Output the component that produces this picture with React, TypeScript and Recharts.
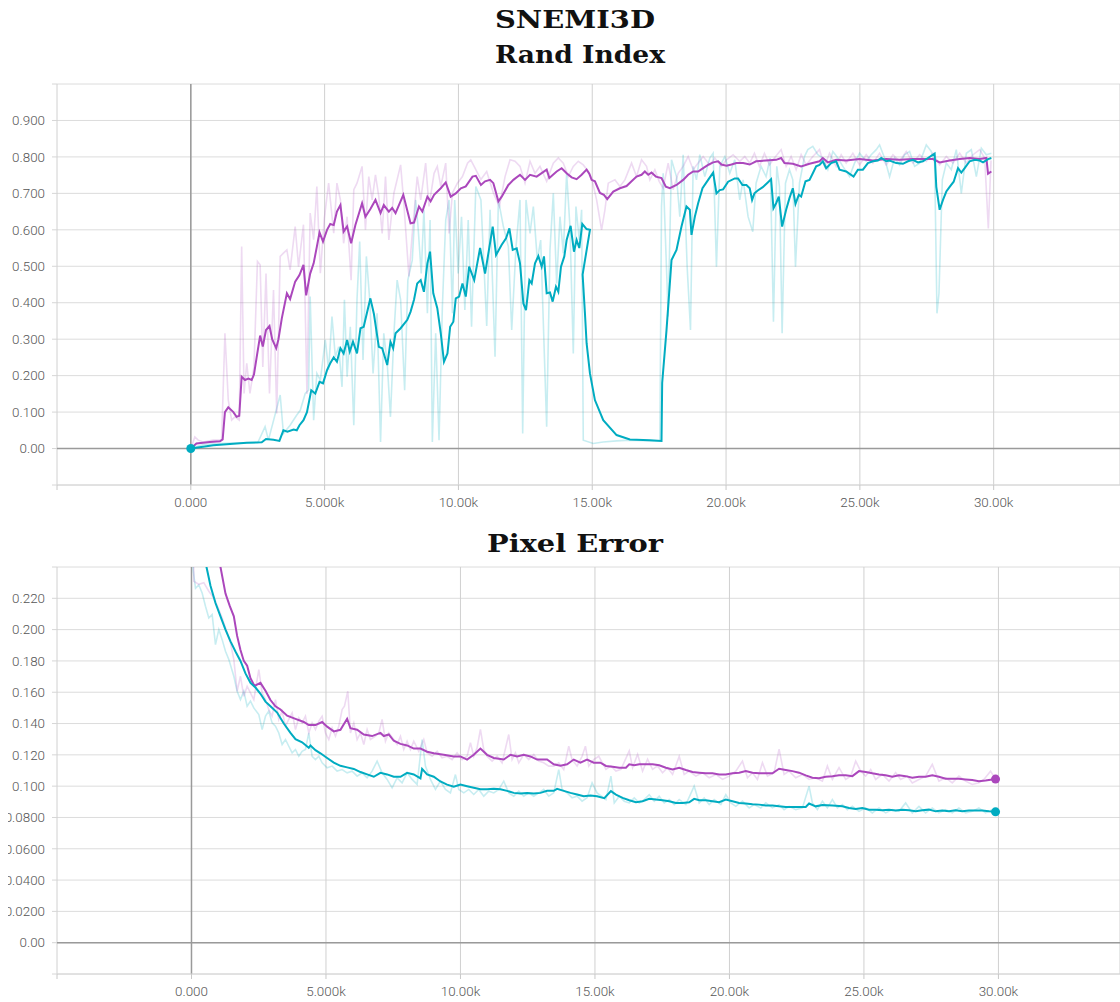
import React from 'react';
import {
  LineChart,
  Line,
  XAxis,
  YAxis,
  CartesianGrid,
  ReferenceLine,
  ReferenceDot,
} from 'recharts';

// [step, value] pairs
const randCyanRaw = [
  [0, 0], [500, 0.012], [1500, 0.015], [2500, 0.016], [2775, 0.06], [2900, 0.023], [3340, 0.147], [3460, 0.041],
  [3710, 0.064], [3960, 0.092], [4090, 0.105], [4275, 0.151], [4400, 0.16], [4460, 0.417], [4590, 0.078], [4710, 0.206],
  [4840, 0.188], [5025, 0.298], [5150, 0.215], [5275, 0.362], [5400, 0.252], [5525, 0.279], [5650, 0.169], [5740, 0.408],
  [5840, 0.197], [5960, 0.334], [6090, 0.064], [6210, 0.408], [6310, 0.568], [6435, 0.243], [6560, 0.527], [6685, 0.408],
  [6810, 0.206], [6960, 0.371], [7090, 0.018], [7210, 0.316], [7340, 0.233], [7460, 0.087], [7590, 0.316], [7710, 0.462],
  [7840, 0.408], [7990, 0.16], [8110, 0.462], [8275, 0.517], [8400, 0.682], [8490, 0.609], [8610, 0.48], [8710, 0.655],
  [8840, 0.371], [8940, 0.627], [9025, 0.018], [9150, 0.316], [9275, 0.023], [9400, 0.389], [9525, 0.627], [9650, 0.682],
  [9775, 0.371], [9860, 0.682], [9990, 0.48], [10115, 0.636], [10240, 0.38], [10365, 0.627], [10490, 0.334], [10650, 0.719],
  [10840, 0.682], [11057, 0.336], [11182, 0.655], [11368, 0.252], [11493, 0.682], [11679, 0.609], [11866, 0.554], [11990, 0.325],
  [12152, 0.554], [12301, 0.682], [12401, 0.041], [12525, 0.682], [12675, 0.59], [12799, 0.664], [12948, 0.517], [13073, 0.572],
  [13297, 0.06], [13421, 0.545], [13545, 0.7], [13670, 0.453], [13794, 0.636], [13919, 0.536], [14043, 0.755], [14167, 0.609],
  [14292, 0.261], [14391, 0.664], [14516, 0.572], [14603, 0.655], [14665, 0.023], [15038, 0.014], [15411, 0.018], [15909, 0.021],
  [16407, 0.023], [17153, 0.021], [17526, 0.02], [17588, 0.664], [17650, 0.755], [17837, 0.362], [17962, 0.792], [18148, 0.746],
  [18272, 0.636], [18397, 0.806], [18546, 0.499], [18671, 0.325], [18770, 0.774], [18894, 0.737], [19019, 0.806], [19206, 0.746],
  [19392, 0.797], [19517, 0.81], [19641, 0.499], [19766, 0.774], [19953, 0.801], [20139, 0.755], [20326, 0.792], [20512, 0.682],
  [20637, 0.737], [20823, 0.636], [20998, 0.595], [21122, 0.728], [21309, 0.774], [21496, 0.746], [21646, 0.797], [21771, 0.348],
  [21895, 0.774], [21995, 0.719], [22095, 0.316], [22220, 0.728], [22369, 0.765], [22494, 0.737], [22594, 0.499], [22743, 0.728],
  [22930, 0.801], [23055, 0.82], [23242, 0.829], [23429, 0.806], [23616, 0.797], [23803, 0.765], [23990, 0.815], [24177, 0.797],
  [24365, 0.774], [24614, 0.746], [24801, 0.783], [24988, 0.81], [25237, 0.788], [25424, 0.806], [25612, 0.82], [25736, 0.833],
  [25923, 0.797], [26110, 0.746], [26297, 0.797], [26484, 0.778], [26671, 0.806], [26858, 0.815], [27045, 0.774], [27233, 0.783],
  [27482, 0.833], [27669, 0.815], [27794, 0.783], [27881, 0.371], [27956, 0.426], [28081, 0.737], [28230, 0.783], [28417, 0.765],
  [28604, 0.82], [28791, 0.7], [28978, 0.81], [29165, 0.82], [29352, 0.746], [29539, 0.824], [29726, 0.806], [29914, 0.81],
];

const randCyanSmooth = [
  [0, 0], [840, 0.009], [2090, 0.016], [2650, 0.017], [2810, 0.026], [3090, 0.024], [3310, 0.021], [3460, 0.05],
  [3610, 0.046], [3840, 0.052], [3960, 0.05], [4060, 0.064], [4210, 0.078], [4340, 0.1], [4500, 0.16], [4650, 0.151],
  [4810, 0.183], [4940, 0.179], [5090, 0.215], [5210, 0.234], [5340, 0.25], [5460, 0.238], [5590, 0.275], [5710, 0.261],
  [5840, 0.298], [5940, 0.266], [6060, 0.293], [6210, 0.261], [6340, 0.33], [6460, 0.334], [6710, 0.412], [6840, 0.37],
  [7025, 0.279], [7150, 0.275], [7340, 0.229], [7460, 0.293], [7560, 0.275], [7650, 0.316], [7840, 0.33], [8090, 0.353],
  [8210, 0.375], [8340, 0.408], [8460, 0.453], [8590, 0.462], [8710, 0.43], [8840, 0.508], [8940, 0.54], [9060, 0.426],
  [9210, 0.385], [9340, 0.316], [9460, 0.238], [9590, 0.261], [9690, 0.334], [9810, 0.348], [9900, 0.412], [10025, 0.417],
  [10150, 0.453], [10275, 0.417], [10400, 0.499], [10590, 0.462], [10809, 0.55], [10995, 0.48], [11120, 0.536], [11281, 0.609],
  [11406, 0.531], [11617, 0.559], [11779, 0.577], [11903, 0.604], [12028, 0.545], [12177, 0.549], [12301, 0.508], [12426, 0.398],
  [12525, 0.38], [12650, 0.462], [12737, 0.453], [12861, 0.508], [12986, 0.528], [13110, 0.499], [13197, 0.527], [13297, 0.426],
  [13421, 0.428], [13521, 0.403], [13645, 0.444], [13732, 0.43], [13832, 0.499], [13956, 0.527], [14043, 0.572], [14192, 0.611],
  [14317, 0.54], [14416, 0.572], [14516, 0.55], [14628, 0.616], [14789, 0.602], [14914, 0.6],
  // run restarted from an earlier checkpoint
  [14640, 0.477], [14727, 0.371], [14789, 0.289], [14914, 0.206], [15100, 0.133], [15411, 0.078], [15909, 0.037], [16407, 0.025],
  [17153, 0.023], [17588, 0.021], [17613, 0.18], [17775, 0.325], [17962, 0.517], [18148, 0.545], [18335, 0.609], [18521, 0.664],
  [18646, 0.655], [18708, 0.586], [18833, 0.636], [18957, 0.673], [19119, 0.714], [19330, 0.737], [19517, 0.757], [19641, 0.7],
  [19766, 0.709], [19890, 0.711], [20077, 0.732], [20326, 0.741], [20450, 0.741], [20612, 0.723], [20761, 0.723], [20885, 0.714],
  [20973, 0.682], [21060, 0.7], [21185, 0.708], [21372, 0.717], [21559, 0.73], [21683, 0.739], [21771, 0.659], [21871, 0.673],
  [21970, 0.691], [22095, 0.609], [22245, 0.655], [22369, 0.687], [22494, 0.714], [22594, 0.671], [22718, 0.696], [22806, 0.691],
  [22968, 0.733], [23118, 0.737], [23242, 0.755], [23367, 0.774], [23492, 0.778], [23616, 0.788], [23741, 0.769], [23928, 0.783],
  [24115, 0.788], [24240, 0.765], [24489, 0.76], [24764, 0.746], [24926, 0.765], [25113, 0.765], [25300, 0.783], [25487, 0.788],
  [25674, 0.79], [25799, 0.797], [25986, 0.788], [26110, 0.79], [26360, 0.783], [26609, 0.781], [26796, 0.788], [26983, 0.792],
  [27170, 0.785], [27357, 0.788], [27544, 0.797], [27794, 0.809], [27856, 0.718], [27981, 0.655], [28106, 0.682], [28230, 0.705],
  [28355, 0.718], [28505, 0.732], [28667, 0.769], [28791, 0.757], [28916, 0.769], [29103, 0.788], [29290, 0.792], [29477, 0.79],
  [29602, 0.785], [29789, 0.794], [29914, 0.797],
];

const randPurpleRaw = [
  [0, 0], [150, 0.032], [275, 0.023], [460, 0.018], [840, 0.023], [1150, 0.023], [1275, 0.316], [1400, 0.133],
  [1525, 0.078], [1650, 0.087], [1810, 0.078], [1900, 0.554], [1990, 0.151], [2090, 0.234], [2210, 0.151], [2360, 0.224],
  [2490, 0.513], [2590, 0.504], [2690, 0.224], [2810, 0.48], [2940, 0.151], [3090, 0.435], [3210, 0.096], [3340, 0.527],
  [3460, 0.536], [3590, 0.545], [3710, 0.49], [3900, 0.609], [4025, 0.499], [4210, 0.614], [4340, 0.15], [4460, 0.646],
  [4590, 0.573], [4710, 0.719], [4840, 0.481], [4990, 0.632], [5150, 0.728], [5340, 0.591], [5460, 0.728], [5590, 0.682],
  [5710, 0.563], [5840, 0.636], [5990, 0.462], [6090, 0.71], [6210, 0.728], [6400, 0.774], [6525, 0.6], [6650, 0.746],
  [6775, 0.682], [6900, 0.751], [7025, 0.691], [7150, 0.59], [7275, 0.746], [7400, 0.572], [7590, 0.701], [7840, 0.778],
  [7960, 0.673], [8150, 0.472], [8275, 0.59], [8460, 0.746], [8590, 0.682], [8775, 0.783], [8900, 0.664], [9090, 0.755],
  [9210, 0.774], [9340, 0.719], [9525, 0.783], [9650, 0.59], [9775, 0.701], [9960, 0.728], [10150, 0.746], [10340, 0.783],
  [10460, 0.792], [10650, 0.765], [10840, 0.738], [11057, 0.76], [11306, 0.701], [11530, 0.664], [11742, 0.746], [11928, 0.792],
  [12115, 0.788], [12301, 0.774], [12488, 0.728], [12675, 0.788], [12861, 0.755], [13048, 0.774], [13297, 0.733], [13545, 0.783],
  [13732, 0.797], [13919, 0.783], [14105, 0.746], [14292, 0.774], [14478, 0.788], [14665, 0.778], [14852, 0.76], [14976, 0.742],
  [15163, 0.682], [15349, 0.6], [15474, 0.655], [15598, 0.728], [15847, 0.737], [16033, 0.719], [16220, 0.737], [16469, 0.783],
  [16655, 0.746], [16842, 0.792], [17029, 0.774], [17153, 0.737], [17340, 0.765], [17501, 0.733], [17650, 0.714], [17837, 0.783],
  [18023, 0.71], [18210, 0.755], [18397, 0.774], [18584, 0.801], [18770, 0.765], [18957, 0.783], [19144, 0.801], [19392, 0.778],
  [19579, 0.797], [19828, 0.774], [20015, 0.792], [20263, 0.806], [20512, 0.788], [20699, 0.801], [20885, 0.783], [21060, 0.81],
  [21247, 0.774], [21434, 0.81], [21621, 0.778], [21808, 0.797], [22058, 0.82], [22245, 0.774], [22432, 0.801], [22619, 0.765],
  [22806, 0.806], [22993, 0.778], [23242, 0.801], [23492, 0.82], [23679, 0.774], [23866, 0.81], [24115, 0.774], [24302, 0.806],
  [24489, 0.783], [24739, 0.81], [24988, 0.778], [25237, 0.806], [25487, 0.783], [25736, 0.81], [25986, 0.778], [26235, 0.806],
  [26484, 0.788], [26734, 0.815], [26983, 0.783], [27233, 0.806], [27482, 0.788], [27731, 0.81], [27981, 0.778], [28230, 0.801],
  [28480, 0.783], [28729, 0.81], [28978, 0.783], [29228, 0.806], [29477, 0.82], [29664, 0.797], [29800, 0.604], [29900, 0.79],
];

const randPurpleSmooth = [
  [0, 0], [210, 0.014], [710, 0.018], [1090, 0.02], [1190, 0.025], [1275, 0.1], [1400, 0.113], [1590, 0.1],
  [1710, 0.087], [1810, 0.09], [1900, 0.197], [2025, 0.188], [2150, 0.192], [2275, 0.188], [2360, 0.203], [2460, 0.25],
  [2590, 0.31], [2690, 0.28], [2810, 0.325], [2940, 0.336], [3040, 0.3], [3190, 0.275], [3275, 0.3], [3400, 0.357],
  [3590, 0.426], [3710, 0.41], [3900, 0.458], [4060, 0.476], [4210, 0.504], [4310, 0.42], [4460, 0.48], [4590, 0.508],
  [4710, 0.554], [4810, 0.593], [4940, 0.568], [5090, 0.6], [5210, 0.616], [5340, 0.613], [5460, 0.65], [5590, 0.668],
  [5710, 0.595], [5840, 0.609], [5990, 0.563], [6150, 0.613], [6400, 0.673], [6525, 0.636], [6710, 0.657], [6900, 0.682],
  [7090, 0.646], [7210, 0.668], [7400, 0.65], [7525, 0.66], [7650, 0.646], [7940, 0.696], [8210, 0.618], [8340, 0.62],
  [8525, 0.664], [8650, 0.65], [8840, 0.691], [8960, 0.678], [9090, 0.696], [9340, 0.714], [9525, 0.73], [9710, 0.691],
  [9900, 0.7], [10090, 0.714], [10275, 0.719], [10525, 0.746], [10650, 0.748], [10840, 0.723], [10995, 0.733], [11182, 0.737],
  [11306, 0.728], [11493, 0.678], [11617, 0.691], [11866, 0.723], [12053, 0.737], [12301, 0.751], [12488, 0.737], [12675, 0.751],
  [12923, 0.746], [13297, 0.765], [13396, 0.742], [13670, 0.76], [13856, 0.769], [14043, 0.755], [14230, 0.744], [14416, 0.739],
  [14603, 0.751], [14789, 0.765], [14889, 0.754], [14976, 0.737], [15100, 0.733], [15287, 0.701], [15436, 0.696], [15561, 0.684],
  [15785, 0.705], [16033, 0.714], [16282, 0.72], [16469, 0.733], [16655, 0.746], [16842, 0.751], [16966, 0.76], [17091, 0.751],
  [17215, 0.757], [17377, 0.746], [17588, 0.742], [17750, 0.718], [17899, 0.714], [18148, 0.723], [18397, 0.737], [18584, 0.751],
  [18770, 0.76], [18957, 0.76], [19144, 0.769], [19330, 0.778], [19517, 0.785], [19704, 0.788], [19828, 0.779], [20015, 0.776],
  [20201, 0.779], [20388, 0.783], [20637, 0.783], [20885, 0.779], [21122, 0.788], [21496, 0.79], [21871, 0.792], [22058, 0.797],
  [22182, 0.783], [22494, 0.781], [22806, 0.774], [23118, 0.781], [23492, 0.788], [23616, 0.797], [23803, 0.785], [24115, 0.792],
  [24489, 0.79], [24988, 0.794], [25487, 0.79], [25986, 0.794], [26484, 0.792], [26983, 0.794], [27482, 0.794], [27731, 0.794],
  [27981, 0.785], [28355, 0.79], [28729, 0.794], [29103, 0.797], [29477, 0.794], [29727, 0.797], [29789, 0.754], [29914, 0.76],
];

const pixCyanRaw = [
  [0, 0.45], [62, 0.2381], [149, 0.2264], [273, 0.2285], [396, 0.2234], [520, 0.2149], [644, 0.2074], [768, 0.2096],
  [892, 0.1904], [1016, 0.2], [1140, 0.1936], [1264, 0.1862], [1388, 0.1809], [1574, 0.1702], [1697, 0.1606], [1821, 0.1553],
  [1945, 0.1606], [2069, 0.1511], [2193, 0.1543], [2317, 0.15], [2503, 0.1457], [2627, 0.1362], [2751, 0.1447], [2874, 0.1479],
  [2998, 0.1404], [3122, 0.1383], [3246, 0.134], [3370, 0.1266], [3494, 0.1298], [3618, 0.1255], [3742, 0.1213], [3866, 0.1234],
  [3990, 0.1191], [4113, 0.1223], [4237, 0.1234], [4361, 0.134], [4485, 0.1191], [4609, 0.117], [4733, 0.1191], [4857, 0.1149],
  [5043, 0.1117], [5229, 0.1128], [5414, 0.1096], [5600, 0.1106], [5786, 0.1085], [5972, 0.1096], [6158, 0.1064], [6344, 0.1085],
  [6530, 0.1053], [6715, 0.1096], [6901, 0.116], [7087, 0.1085], [7273, 0.1043], [7459, 0.0989], [7645, 0.1053], [7830, 0.1021],
  [8016, 0.1085], [8202, 0.1043], [8388, 0.1011], [8574, 0.1298], [8698, 0.1128], [8884, 0.1043], [9070, 0.0979], [9255, 0.1032],
  [9441, 0.0979], [9627, 0.0957], [9813, 0.1074], [9937, 0.0979], [10123, 0.0957], [10308, 0.0979], [10494, 0.0947], [10680, 0.0979],
  [10866, 0.0936], [11052, 0.0968], [11238, 0.0957], [11424, 0.0979], [11610, 0.1032], [11795, 0.0957], [11981, 0.0936], [12167, 0.0968],
  [12353, 0.0936], [12539, 0.0957], [12725, 0.0936], [12910, 0.0957], [13096, 0.0979], [13282, 0.0936], [13468, 0.0957], [13654, 0.1106],
  [13778, 0.0979], [13964, 0.0957], [14150, 0.0926], [14336, 0.0936], [14522, 0.0904], [14708, 0.0926], [14894, 0.1021], [15079, 0.0957],
  [15409, 0.0914], [15594, 0.1064], [15718, 0.0893], [15904, 0.0936], [16089, 0.0904], [16275, 0.0893], [16461, 0.0925], [16647, 0.0893],
  [16832, 0.0914], [17018, 0.0946], [17204, 0.0904], [17389, 0.0936], [17575, 0.0893], [17761, 0.0914], [17946, 0.0882], [18132, 0.0914],
  [18380, 0.0882], [18689, 0.1], [18875, 0.0893], [19061, 0.0925], [19246, 0.0882], [19432, 0.0914], [19680, 0.0882], [19865, 0.0946],
  [20051, 0.0893], [20237, 0.0871], [20484, 0.0904], [20732, 0.0861], [20918, 0.0882], [21165, 0.0861], [21351, 0.0893], [21598, 0.0861],
  [21846, 0.0882], [22032, 0.085], [22217, 0.0871], [22465, 0.085], [22713, 0.0861], [22960, 0.1], [23084, 0.0893], [23270, 0.085],
  [23456, 0.0904], [23641, 0.0861], [23827, 0.0914], [24013, 0.0861], [24198, 0.0882], [24384, 0.085], [24570, 0.0871], [24817, 0.0839],
  [25065, 0.0861], [25312, 0.0829], [25560, 0.0861], [25808, 0.0829], [26055, 0.085], [26303, 0.0839], [26550, 0.0893], [26798, 0.0829],
  [27046, 0.0871], [27293, 0.0829], [27541, 0.0861], [27788, 0.0829], [28036, 0.085], [28284, 0.0829], [28531, 0.0861], [28779, 0.0829],
  [29026, 0.0839], [29274, 0.0861], [29522, 0.0829], [29770, 0.085], [29893, 0.0839],
];

const pixCyanSmooth = [
  [0, 0.45], [250, 0.3], [558, 0.24], [706, 0.228], [892, 0.217], [1078, 0.2085], [1264, 0.2], [1450, 0.1925],
  [1635, 0.186], [1821, 0.18], [2007, 0.172], [2193, 0.166], [2379, 0.163], [2565, 0.159], [2751, 0.154], [2936, 0.151],
  [3184, 0.147], [3432, 0.14], [3680, 0.134], [3866, 0.13], [4113, 0.128], [4361, 0.1245], [4423, 0.126], [4609, 0.123],
  [4795, 0.121], [5043, 0.118], [5291, 0.115], [5538, 0.113], [5786, 0.112], [6034, 0.111], [6282, 0.109], [6530, 0.1075],
  [6777, 0.106], [7025, 0.1085], [7273, 0.1075], [7521, 0.106], [7769, 0.106], [8016, 0.1085], [8264, 0.1075], [8512, 0.105],
  [8574, 0.111], [8760, 0.1075], [9008, 0.106], [9255, 0.103], [9503, 0.101], [9751, 0.0996], [9999, 0.101], [10247, 0.1],
  [10494, 0.099], [10742, 0.098], [10990, 0.098], [11238, 0.0983], [11486, 0.098], [11733, 0.097], [11981, 0.0957], [12229, 0.0953],
  [12477, 0.0957], [12725, 0.0953], [12972, 0.0957], [13220, 0.097], [13468, 0.097], [13592, 0.0983], [13840, 0.097], [14088, 0.0957],
  [14336, 0.0947], [14584, 0.0936], [14832, 0.094], [15079, 0.0936], [15347, 0.0923], [15594, 0.0968], [15780, 0.0946], [16028, 0.0925],
  [16275, 0.091], [16523, 0.0897], [16770, 0.0904], [17018, 0.0919], [17266, 0.0914], [17513, 0.091], [17761, 0.0904], [18008, 0.0893],
  [18256, 0.0893], [18504, 0.0897], [18689, 0.0919], [18875, 0.091], [19123, 0.091], [19370, 0.0904], [19618, 0.0897], [19865, 0.0914],
  [20113, 0.0904], [20360, 0.0893], [20608, 0.0889], [20856, 0.0884], [21103, 0.0882], [21351, 0.0876], [21598, 0.0876], [21846, 0.0871],
  [22094, 0.0867], [22341, 0.0867], [22589, 0.0867], [22837, 0.0867], [22961, 0.0889], [23208, 0.0871], [23456, 0.088], [23827, 0.0876],
  [24198, 0.0871], [24446, 0.0861], [24694, 0.0854], [24941, 0.0861], [25189, 0.085], [25436, 0.085], [25684, 0.0846], [25932, 0.085],
  [26179, 0.0844], [26427, 0.085], [26674, 0.0846], [26922, 0.0839], [27170, 0.0846], [27417, 0.085], [27665, 0.0839], [27912, 0.0844],
  [28160, 0.0839], [28408, 0.0846], [28655, 0.0839], [28903, 0.0844], [29150, 0.0844], [29398, 0.0844], [29646, 0.0839], [29893, 0.0836],
];

const pixPurpleRaw = [
  [0, 0.5], [87, 0.2309], [273, 0.2289], [458, 0.23], [644, 0.2245], [830, 0.2202], [1016, 0.2128], [1140, 0.2074],
  [1326, 0.1979], [1450, 0.1915], [1574, 0.1809], [1697, 0.1606], [1821, 0.1702], [1945, 0.1574], [2069, 0.1638], [2193, 0.1596],
  [2317, 0.1553], [2503, 0.1745], [2627, 0.1596], [2751, 0.1553], [2874, 0.1489], [2998, 0.1447], [3122, 0.1553], [3246, 0.1426],
  [3370, 0.1479], [3494, 0.1383], [3618, 0.1426], [3742, 0.1468], [3866, 0.1362], [3990, 0.1436], [4113, 0.1404], [4237, 0.1447],
  [4361, 0.134], [4485, 0.1404], [4609, 0.1362], [4733, 0.1415], [4857, 0.1447], [4981, 0.134], [5105, 0.1298], [5229, 0.1372],
  [5353, 0.1319], [5476, 0.1383], [5600, 0.1489], [5687, 0.1511], [5811, 0.1606], [5910, 0.134], [6034, 0.1404], [6158, 0.1298],
  [6282, 0.134], [6406, 0.1266], [6530, 0.1362], [6653, 0.1298], [6839, 0.1319], [6963, 0.134], [7087, 0.1426], [7211, 0.1287],
  [7335, 0.134], [7521, 0.1298], [7645, 0.1266], [7769, 0.1319], [7892, 0.1234], [8016, 0.1287], [8140, 0.1234], [8264, 0.1287],
  [8450, 0.1223], [8636, 0.1298], [8760, 0.1213], [8946, 0.1191], [9132, 0.1223], [9317, 0.1181], [9503, 0.1191], [9689, 0.117],
  [9875, 0.1213], [10061, 0.117], [10247, 0.1191], [10371, 0.1277], [10494, 0.1191], [10618, 0.1245], [10742, 0.1362], [10866, 0.1234],
  [10990, 0.1191], [11176, 0.116], [11362, 0.1191], [11547, 0.1149], [11795, 0.133], [11919, 0.117], [12043, 0.1213], [12167, 0.1149],
  [12353, 0.1202], [12539, 0.117], [12725, 0.1202], [12910, 0.116], [13096, 0.1149], [13282, 0.1128], [13468, 0.1128], [13654, 0.1149],
  [13840, 0.1106], [14026, 0.1255], [14150, 0.117], [14336, 0.1128], [14522, 0.1191], [14646, 0.1255], [14770, 0.1128], [14955, 0.117],
  [15141, 0.1191], [15409, 0.1107], [15594, 0.1129], [15780, 0.1096], [15966, 0.1107], [16275, 0.1225], [16399, 0.1118], [16585, 0.1204],
  [16770, 0.1096], [16956, 0.1172], [17142, 0.1107], [17328, 0.1129], [17513, 0.1086], [17699, 0.1118], [17885, 0.1075], [18132, 0.119],
  [18318, 0.1075], [18504, 0.1096], [18751, 0.1064], [18999, 0.1086], [19246, 0.1054], [19494, 0.1075], [19742, 0.1043], [19989, 0.1064],
  [20237, 0.1096], [20484, 0.116], [20670, 0.1054], [20856, 0.1086], [21041, 0.1043], [21227, 0.115], [21413, 0.1064], [21660, 0.1086],
  [21846, 0.1236], [22032, 0.1075], [22217, 0.1096], [22465, 0.1054], [22713, 0.1075], [22960, 0.1043], [23208, 0.1054], [23456, 0.1032],
  [23641, 0.1129], [23827, 0.1043], [24074, 0.1118], [24322, 0.1043], [24508, 0.1064], [24694, 0.116], [24879, 0.1096], [25065, 0.1064],
  [25251, 0.1107], [25436, 0.1043], [25684, 0.1075], [25932, 0.1032], [26179, 0.1086], [26365, 0.1043], [26612, 0.1064], [26798, 0.1021],
  [27046, 0.1043], [27293, 0.1064], [27541, 0.1139], [27788, 0.1032], [28036, 0.1054], [28284, 0.1021], [28531, 0.1064], [28779, 0.1032],
  [29026, 0.1011], [29274, 0.1021], [29460, 0.1043], [29708, 0.1096], [29893, 0.1043],
];

const pixPurpleSmooth = [
  [0, 0.55], [400, 0.36], [800, 0.275], [1078, 0.24], [1264, 0.223], [1425, 0.215], [1574, 0.2085], [1697, 0.196],
  [1821, 0.187], [1945, 0.18], [2069, 0.177], [2193, 0.169], [2342, 0.164], [2565, 0.166], [2751, 0.161], [2936, 0.155],
  [3122, 0.151], [3308, 0.149], [3556, 0.145], [3866, 0.143], [4175, 0.141], [4361, 0.139], [4609, 0.139], [4857, 0.141],
  [5043, 0.138], [5291, 0.135], [5538, 0.136], [5786, 0.143], [5910, 0.137], [6158, 0.136], [6406, 0.133], [6715, 0.132],
  [7025, 0.134], [7149, 0.132], [7335, 0.133], [7521, 0.129], [7769, 0.127], [8016, 0.126], [8264, 0.124], [8512, 0.124],
  [8760, 0.122], [9008, 0.121], [9379, 0.12], [9751, 0.119], [9999, 0.119], [10247, 0.117], [10494, 0.12], [10742, 0.124],
  [10990, 0.12], [11238, 0.118], [11609, 0.117], [11857, 0.12], [12105, 0.119], [12353, 0.12], [12601, 0.119], [12849, 0.117],
  [13220, 0.117], [13468, 0.114], [13716, 0.113], [13964, 0.114], [14212, 0.117], [14459, 0.115], [14707, 0.117], [14955, 0.115],
  [15203, 0.115], [15409, 0.1129], [15656, 0.1124], [15904, 0.1118], [16151, 0.1118], [16275, 0.114], [16461, 0.1133], [16647, 0.114],
  [16894, 0.114], [17142, 0.114], [17389, 0.1133], [17637, 0.1118], [17885, 0.1107], [18132, 0.1118], [18380, 0.1103], [18627, 0.109],
  [18875, 0.1086], [19123, 0.1082], [19370, 0.1082], [19618, 0.1075], [19865, 0.1075], [20113, 0.1082], [20360, 0.1086], [20608, 0.1096],
  [20856, 0.1086], [21103, 0.1082], [21351, 0.1082], [21598, 0.1082], [21846, 0.1111], [22094, 0.1103], [22341, 0.1096], [22589, 0.1086],
  [22837, 0.1069], [23084, 0.1054], [23332, 0.105], [23579, 0.106], [23827, 0.1064], [24074, 0.1069], [24322, 0.1069], [24570, 0.1064],
  [24817, 0.1096], [25065, 0.109], [25312, 0.1082], [25560, 0.1075], [25808, 0.1069], [26055, 0.106], [26303, 0.1069], [26550, 0.1064],
  [26798, 0.1054], [27046, 0.106], [27293, 0.106], [27541, 0.1069], [27788, 0.106], [28036, 0.1047], [28284, 0.1047], [28531, 0.1047],
  [28779, 0.1043], [29026, 0.1039], [29274, 0.1032], [29522, 0.1036], [29893, 0.1045],
];

const stepTicks = [-5000, 0, 5000, 10000, 15000, 20000, 25000, 30000];
const randTicks = [-0.1, 0, 0.1, 0.2, 0.3, 0.4, 0.5, 0.6, 0.7, 0.8, 0.9, 1.0];
const pixTicks = [-0.02, 0, 0.02, 0.04, 0.06, 0.08, 0.1, 0.12, 0.14, 0.16, 0.18, 0.2, 0.22, 0.24];

const CYAN = '#00acc1';
const PURPLE = '#ab47bc';
const TICK_FONT = 'Roboto, "Liberation Sans", sans-serif';

const pts = (arr: number[][]) => arr.map(([step, value]) => ({ step, value }));

function fmtStep(v: number) {
  if (v < 0) return '';
  if (v === 0) return '0.000';
  return (v / 1000).toPrecision(4) + 'k';
}

function makeValueFmt(lo: number, hi: number) {
  return (v: number) => {
    if (v <= lo + 1e-9 || v >= hi - 1e-9) return '';
    if (Math.abs(v) < 1e-9) return '0.00';
    return v.toPrecision(3);
  };
}

interface PanelProps {
  width: number;
  axisWidth: number;
  height: number;
  plotTop: number;
  axisHeight: number;
  stepMax: number;
  yDomain: [number, number];
  yTicks: number[];
  cyanRaw: number[][];
  cyanSmooth: number[][];
  purpleRaw: number[][];
  purpleSmooth: number[][];
  dots: { x: number; y: number; color: string }[];
}

function Panel(p: PanelProps) {
  const tick = { fontSize: 13.4, fill: '#555', fontFamily: TICK_FONT, fontWeight: 300 };
  return (
    <LineChart width={p.width} height={p.height} margin={{ top: p.plotTop, right: 0, bottom: 0, left: 0 }}>
      <CartesianGrid horizontal={true} vertical={false} stroke="#dcdcdc" strokeWidth={1} />
      <CartesianGrid horizontal={false} vertical={true} stroke="#d0d0d0" strokeWidth={1} />
      <XAxis
        type="number"
        dataKey="step"
        domain={[-5000, p.stepMax]}
        ticks={stepTicks}
        allowDataOverflow
        tickFormatter={fmtStep}
        height={p.axisHeight}
        tickSize={5}
        tickMargin={7}
        tick={tick}
        stroke="#d6d6d6"
        tickLine={{ stroke: '#c8c8c8' }}
        interval={0}
      />
      <YAxis
        type="number"
        domain={p.yDomain}
        ticks={p.yTicks}
        allowDataOverflow
        tickFormatter={makeValueFmt(p.yDomain[0], p.yDomain[1])}
        width={p.axisWidth}
        tickSize={5}
        tickMargin={7}
        tick={tick}
        axisLine={false}
        tickLine={{ stroke: '#d6d6d6' }}
        interval={0}
      />
      <ReferenceLine y={0} stroke="#9a9a9a" strokeWidth={1.5} />
      <ReferenceLine x={0} stroke="#9a9a9a" strokeWidth={1.5} />
      <Line data={pts(p.cyanRaw)} dataKey="value" stroke={CYAN} strokeOpacity={0.22} strokeWidth={1.6} dot={false} isAnimationActive={false} />
      <Line data={pts(p.purpleRaw)} dataKey="value" stroke={PURPLE} strokeOpacity={0.2} strokeWidth={1.6} dot={false} isAnimationActive={false} />
      <Line data={pts(p.purpleSmooth)} dataKey="value" stroke={PURPLE} strokeWidth={2} dot={false} isAnimationActive={false} />
      <Line data={pts(p.cyanSmooth)} dataKey="value" stroke={CYAN} strokeWidth={2} dot={false} isAnimationActive={false} />
      {p.dots.map((d, i) => (
        <ReferenceDot key={i} x={d.x} y={d.y} r={4.5} fill={d.color} stroke="none" />
      ))}
    </LineChart>
  );
}

export default function App() {
  const titleStyle: React.CSSProperties = {
    fontFamily: '"DejaVu Serif", serif',
    fontWeight: 700,
    fontSize: 24,
    fill: '#111',
  };
  const lastCyan = pixCyanSmooth[pixCyanSmooth.length - 1];
  const lastPurple = pixPurpleSmooth[pixPurpleSmooth.length - 1];
  return (
    <div style={{ position: 'absolute', left: 0, top: 0, width: 1120, height: 1002, overflow: 'hidden', background: '#fff' }}>
      <div style={{ position: 'absolute', left: 0, top: 0 }}>
        <Panel
          width={1120}
          axisWidth={57}
          height={520}
          plotTop={84}
          axisHeight={35}
          stepMax={34720}
          yDomain={[-0.1, 1.0]}
          yTicks={randTicks}
          cyanRaw={randCyanRaw}
          cyanSmooth={randCyanSmooth}
          purpleRaw={randPurpleRaw}
          purpleSmooth={randPurpleSmooth}
          dots={[{ x: randCyanSmooth[0][0], y: randCyanSmooth[0][1], color: CYAN }]}
        />
      </div>
      <div style={{ position: 'absolute', left: 8, top: 520, width: 1112, overflow: 'hidden' }}>
        <Panel
          width={1112}
          axisWidth={49}
          height={482}
          plotTop={47}
          axisHeight={28}
          stepMax={34520}
          yDomain={[-0.02, 0.24]}
          yTicks={pixTicks}
          cyanRaw={pixCyanRaw}
          cyanSmooth={pixCyanSmooth}
          purpleRaw={pixPurpleRaw}
          purpleSmooth={pixPurpleSmooth}
          dots={[
            { x: lastPurple[0], y: lastPurple[1], color: PURPLE },
            { x: lastCyan[0], y: lastCyan[1], color: CYAN },
          ]}
        />
      </div>
      <svg width={1120} height={1002} style={{ position: 'absolute', left: 0, top: 0, pointerEvents: 'none' }}>
        <text x={575} y={28} textAnchor="middle" textLength={160} lengthAdjust="spacingAndGlyphs" style={titleStyle}>SNEMI3D</text>
        <text x={580} y={63} textAnchor="middle" textLength={170} lengthAdjust="spacingAndGlyphs" style={titleStyle}>Rand Index</text>
        <text x={575} y={552} textAnchor="middle" textLength={176} lengthAdjust="spacingAndGlyphs" style={titleStyle}>Pixel Error</text>
      </svg>
    </div>
  );
}
